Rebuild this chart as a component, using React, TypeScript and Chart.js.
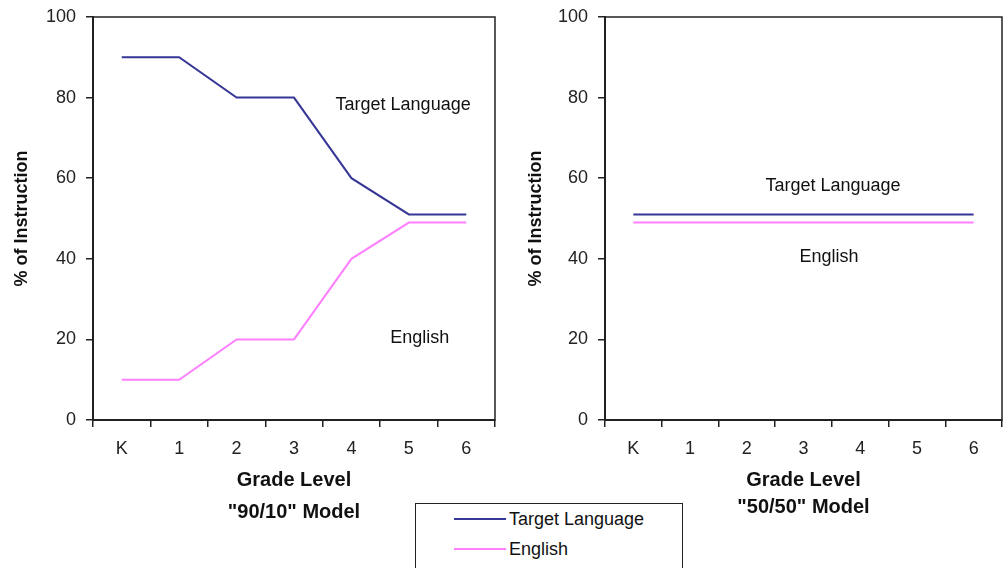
import React, { useEffect, useRef } from 'react';
import { Chart, registerables } from 'chart.js';

Chart.register(...registerables);

// ---- data ----
const grades = ['K', '1', '2', '3', '4', '5', '6'];
const targetLanguage9010 = [90, 90, 80, 80, 60, 51, 51];
const english9010 = [10, 10, 20, 20, 40, 49, 49];
const targetLanguage5050 = [51, 51, 51, 51, 51, 51, 51];
const english5050 = [49, 49, 49, 49, 49, 49, 49];
const yMin = 0;
const yMax = 100;
const yStep = 20;
const seriesNames = ['Target Language', 'English'];
const modelTitles = ['"90/10" Model', '"50/50" Model'];
const xAxisTitle = 'Grade Level';
const yAxisTitle = '% of Instruction';

// ---- styles ----
const FONT = "'Liberation Sans', Arial, sans-serif";
const BLUE = '#363696';
const PINK = '#ff80ff';
const AXIS = '#222222';
const CANVAS_H = 540;

const framePlugin = {
  id: 'frame',
  afterDraw(chart: any, _args: any, opts: any) {
    const { ctx, chartArea } = chart;
    ctx.save();
    ctx.strokeStyle = AXIS;
    ctx.lineWidth = 1.5;
    ctx.strokeRect(chartArea.left, chartArea.top, chartArea.right - chartArea.left, chartArea.bottom - chartArea.top);
    const xs = chart.scales.x;
    const ys = chart.scales.y;
    ctx.fillStyle = '#111';
    ctx.font = `18px ${FONT}`;
    ctx.textAlign = 'center';
    ctx.textBaseline = 'middle';
    (opts.notes || []).forEach((n: any) => {
      ctx.fillText(n.text, xs.getPixelForValue(n.x), ys.getPixelForValue(n.y));
    });
    ctx.restore();
  },
};

type PanelProps = {
  left: number;
  width: number;
  yAxisWidth: number;
  padRight: number;
  target: number[];
  english: number[];
  model: string;
  titleLineHeight: number;
  titlePadBottom: number;
  notes: { text: string; x: number; y: number }[];
};

function Panel(p: PanelProps) {
  const ref = useRef<HTMLCanvasElement | null>(null);
  useEffect(() => {
    if (!ref.current) return;
    const chart = new Chart(ref.current, {
      type: 'line',
      data: {
        labels: grades,
        datasets: [
          { label: seriesNames[0], data: p.target, borderColor: BLUE, borderWidth: 2, pointRadius: 0, tension: 0, fill: false },
          { label: seriesNames[1], data: p.english, borderColor: PINK, borderWidth: 2, pointRadius: 0, tension: 0, fill: false },
        ],
      },
      options: {
        responsive: false,
        animation: false,
        layout: { padding: { top: 17, right: p.padRight, bottom: 0, left: 0 } },
        plugins: {
          legend: { display: false },
          tooltip: { enabled: false },
          frame: { notes: p.notes },
        } as any,
        scales: {
          x: {
            type: 'category',
            offset: true,
            grid: { offset: true, drawOnChartArea: false, drawTicks: true, tickLength: 7, color: AXIS, lineWidth: 1.5 },
            border: { display: true, color: AXIS, width: 2 },
            ticks: { color: '#222', font: { family: FONT, size: 18 }, padding: 11, maxRotation: 0, autoSkip: false },
            title: {
              display: true,
              text: [xAxisTitle, p.model],
              color: '#111',
              font: { family: FONT, size: 20, weight: 'bold', lineHeight: p.titleLineHeight },
              padding: { top: 0, bottom: p.titlePadBottom },
            },
            afterFit: (s: any) => {
              s.height = CANVAS_H - 420;
              s.paddingLeft = 0;
              s.paddingRight = 0;
            },
          },
          y: {
            min: yMin,
            max: yMax,
            ticks: { stepSize: yStep, color: '#222', font: { family: FONT, size: 18 }, padding: 10 },
            grid: { drawOnChartArea: false, drawTicks: true, tickLength: 7, color: AXIS, lineWidth: 1.5 },
            border: { display: true, color: AXIS, width: 2 },
            title: {
              display: true,
              text: yAxisTitle,
              color: '#111',
              font: { family: FONT, size: 18, weight: 'bold', lineHeight: 1.2 },
              padding: { top: 11, bottom: 0 },
            },
            afterFit: (s: any) => {
              s.width = p.yAxisWidth;
              s.paddingTop = 0;
              s.paddingBottom = 0;
            },
          },
        } as any,
      },
      plugins: [framePlugin],
    });
    return () => chart.destroy();
  }, []);
  return (
    <canvas
      ref={ref}
      width={p.width}
      height={CANVAS_H}
      style={{ position: 'absolute', left: p.left, top: 0, width: p.width, height: CANVAS_H }}
    />
  );
}

function LegendRow({ color, label, top }: { color: string; label: string; top: number }) {
  return (
    <div style={{ position: 'absolute', left: 0, top, height: 22, width: 268 }}>
      <div style={{ position: 'absolute', left: 38, top: 10, width: 52, height: 2, background: color }} />
      <span
        style={{
          position: 'absolute',
          left: 93,
          top: 0,
          fontFamily: FONT,
          fontSize: 18,
          lineHeight: '22px',
          color: '#111',
          whiteSpace: 'nowrap',
        }}
      >
        {label}
      </span>
    </div>
  );
}

export default function App() {
  return (
    <div style={{ position: 'absolute', left: 0, top: 0, width: 1003, height: 568, overflow: 'hidden', background: '#fff' }}>
      <Panel
        left={0}
        width={514}
        yAxisWidth={93}
        padRight={19}
        target={targetLanguage9010}
        english={english9010}
        model={modelTitles[0]}
        titleLineHeight={1.6}
        titlePadBottom={12}
        notes={[
          { text: seriesNames[0], x: 4.9, y: 78.2 },
          { text: seriesNames[1], x: 5.19, y: 20.3 },
        ]}
      />
      <Panel
        left={514}
        width={489}
        yAxisWidth={91}
        padRight={1}
        target={targetLanguage5050}
        english={english5050}
        model={modelTitles[1]}
        titleLineHeight={1.35}
        titlePadBottom={19}
        notes={[
          { text: seriesNames[0], x: 3.52, y: 58.1 },
          { text: seriesNames[1], x: 3.45, y: 40.5 },
        ]}
      />
      <div
        style={{
          position: 'absolute',
          left: 415,
          top: 503,
          width: 268,
          height: 70,
          border: '1px solid #222',
          boxSizing: 'border-box',
          background: '#fff',
        }}
      >
        <LegendRow color={BLUE} label={seriesNames[0]} top={4} />
        <LegendRow color={PINK} label={seriesNames[1]} top={34} />
      </div>
    </div>
  );
}
